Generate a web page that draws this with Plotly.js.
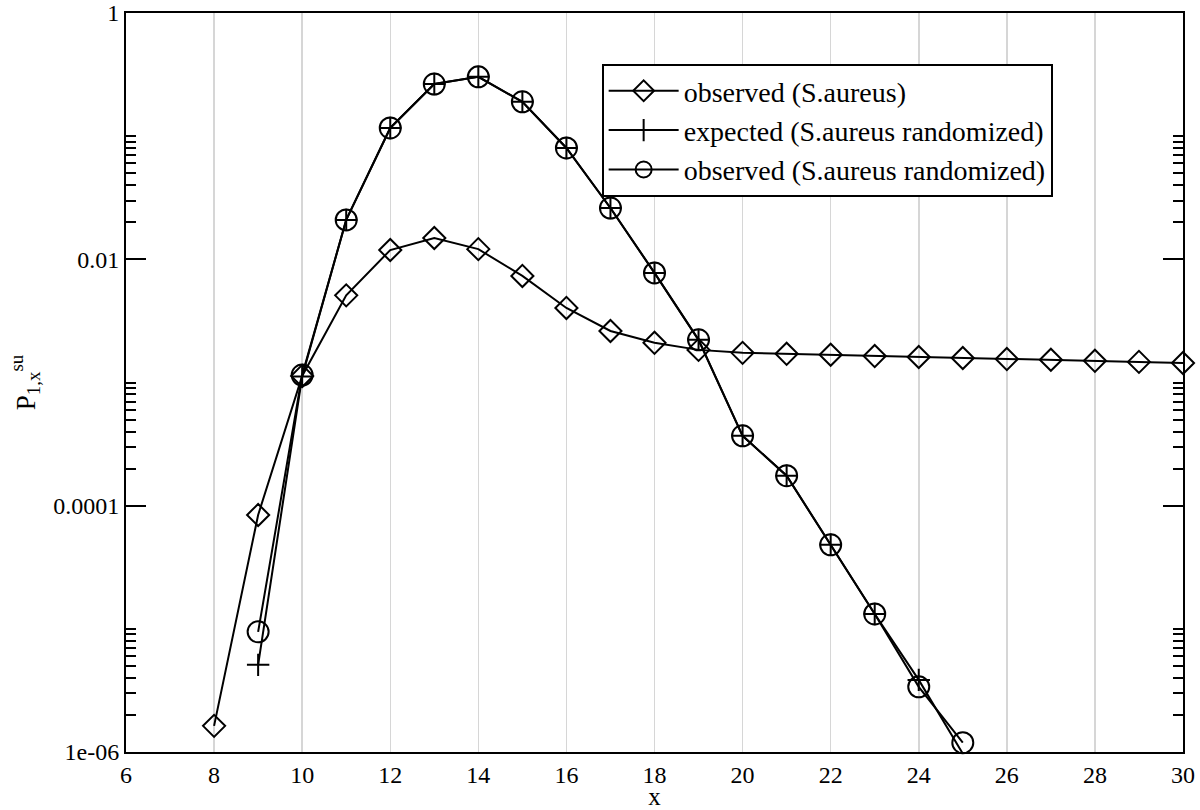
<!DOCTYPE html>
<html>
<head>
<meta charset="utf-8">
<script src="https://cdn.plot.ly/plotly-3.0.1.min.js"></script>
<style>html,body{margin:0;padding:0;background:#fff;}#chart{width:1200px;height:810px;}</style>
</head>
<body>
<div id="chart"></div>
<script>
// x positions
const xObs = [8,9,10,11,12,13,14,15,16,17,18,19,20,21,22,23,24,25,26,27,28,29,30];
const yObs = [1.63e-6,8.4e-5,1.13e-3,5.1e-3,0.0119,0.0149,0.0121,0.00733,0.00403,0.00262,0.00210,0.00184,0.00174,0.00171,0.00168,0.00164,0.00161,0.00158,0.00155,0.00153,0.00150,0.00147,0.00144];

const xRand = [9,10,11,12,13,14,15,16,17,18,19,20,21,22,23,24,25];
const yExpected = [5.1e-6,1.12e-3,0.0209,0.1166,0.265,0.303,0.190,0.0802,0.0261,0.00776,0.00222,3.69e-4,1.75e-4,4.81e-5,1.32e-5,3.85e-6,9.7e-7];
const yObsRand = [9.46e-6,1.15e-3,0.0209,0.1166,0.265,0.303,0.190,0.0802,0.0261,0.00776,0.00222,3.69e-4,1.75e-4,4.81e-5,1.32e-5,3.38e-6,1.19e-6];

const names = ['observed (S.aureus)','expected (S.aureus randomized)','observed (S.aureus randomized)'];

const yMajorVals = [1e-6,1e-4,0.01,1];
const yMajorText = ['1e-06','0.0001','0.01','1'];
const yMinorVals = [2e-6,3e-6,4e-6,5e-6,6e-6,7e-6,8e-6,9e-6,1e-5,
                    2e-4,3e-4,4e-4,5e-4,6e-4,7e-4,8e-4,9e-4,1e-3,
                    0.02,0.03,0.04,0.05,0.06,0.07,0.08,0.09,0.1];

const font = '"Liberation Serif", "Times New Roman", "DejaVu Serif", serif';
const lineStyle = {color:'#000', width:2};

const traces = [
  {x:xObs, y:yObs, name:names[0], mode:'lines+markers', cliponaxis:false,
   line:lineStyle, marker:{symbol:'diamond-open', size:17, color:'#000', line:{color:'#000', width:2}}},
  {x:xRand, y:yExpected, name:names[1], mode:'lines+markers', cliponaxis:false,
   line:lineStyle, marker:{symbol:'cross-thin-open', size:16, color:'#000', line:{color:'#000', width:2}}},
  {x:xRand, y:yObsRand, name:names[2], mode:'lines+markers', cliponaxis:false,
   line:lineStyle, marker:{symbol:'circle-open', size:21, color:'#000', line:{color:'#000', width:2}}}
];

const layout = {
  width:1200, height:810,
  paper_bgcolor:'#fff', plot_bgcolor:'#fff',
  margin:{l:126, r:17, t:13, b:58},
  font:{family:font, size:24, color:'#000'},
  showlegend:true,
  legend:{x:0.45, y:0.931, xanchor:'left', yanchor:'top', bgcolor:'#fff',
          bordercolor:'#000', borderwidth:2, font:{family:font, size:28, color:'#000'},
          tracegroupgap:0, itemwidth:70},
  xaxis:{type:'linear', range:[6,30], tickmode:'linear', tick0:6, dtick:2,
         showgrid:true, gridcolor:'#d6d6d6', gridwidth:1.5, zeroline:false,
         showline:true, linecolor:'#000', linewidth:2, mirror:true,
         ticks:'', ticklabeloverflow:'allow', tickfont:{family:font, size:24, color:'#000'},
         title:{text:'x', font:{family:font, size:25, color:'#000'}, standoff:0}},
  yaxis:{type:'log', range:[-6,0], tickmode:'array', tickvals:yMajorVals, ticktext:yMajorText,
         showgrid:false, zeroline:false, showline:true, linecolor:'#000', linewidth:2,
         mirror:'allticks', ticks:'inside', ticklen:20, tickwidth:2, tickcolor:'#000',
         ticklabeloverflow:'allow',
         minor:{tickmode:'array', tickvals:yMinorVals, ticks:'inside', ticklen:10, tickwidth:2, tickcolor:'#000', showgrid:false},
         tickfont:{family:font, size:24, color:'#000'},
         title:{text:'P<sub>1,x</sub><sup>su</sup>', font:{family:font, size:27, color:'#000'}, standoff:10}}
};

Plotly.newPlot('chart', traces, layout, {displayModeBar:false, staticPlot:true});
</script>
</body>
</html>
